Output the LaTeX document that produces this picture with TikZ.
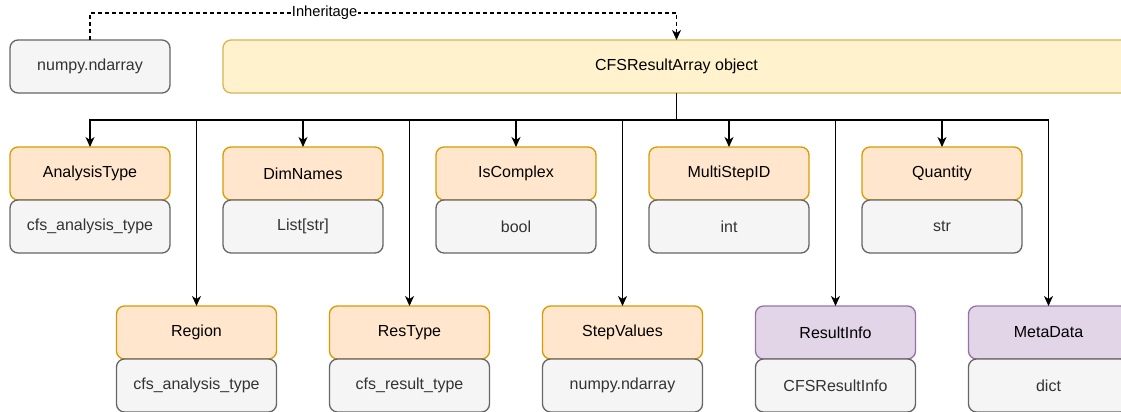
\documentclass[tikz,border=0pt]{standalone}
\usepackage{fontspec}
\setmainfont{Liberation Sans}
\usepackage{xcolor}
\usepackage{tikz}
\usetikzlibrary{arrows.meta,positioning}
\definecolor{ylwF}{HTML}{FFF2CC}
\definecolor{ylwD}{HTML}{D6B656}
\definecolor{orgF}{HTML}{FFE6CC}
\definecolor{orgD}{HTML}{D79B00}
\definecolor{prpF}{HTML}{E1D5E7}
\definecolor{prpD}{HTML}{9673A6}
\definecolor{gryF}{HTML}{F5F5F5}
\definecolor{gryD}{HTML}{666666}
\definecolor{gryT}{HTML}{333333}

\begin{document}
\begin{tikzpicture}[x=1pt, y=1pt, >={Stealth[length=10pt, width=9pt, inset=3pt]}, line width=1.33pt,
  box/.style={draw, rounded corners=8pt, minimum width=160pt, minimum height=53pt, outer sep=0pt, inner sep=2pt, font=\fontsize{16}{19}\selectfont},
  hdr/.style={box, fill=orgF, draw=orgD},
  info/.style={box, fill=prpF, draw=prpD},
  val/.style={box, fill=gryF, draw=gryD, text=gryT},
  bus/.style={->, to path={-- ++(0,-27) -| (\tikztotarget) \tikztonodes}}]
\path[use as bounding box, clip] (0,0) rectangle (1121,-412);

\node[val] (np) at (90,-66.5) {numpy.ndarray};
\node[box, fill=ylwF, draw=ylwD, minimum width=907pt] (obj) at (676.5,-66.5) {CFSResultArray object};

\node[hdr] (atype) at (90,-173.5) {AnalysisType};
\node[hdr] (dims) [right=53pt of atype] {DimNames};
\node[hdr] (cplx) [right=53pt of dims] {IsComplex};
\node[hdr] (msid) [right=53pt of cplx] {MultiStepID};
\node[hdr] (qty) [right=53pt of msid] {Quantity};
\node[val] (atypeV) [below=0pt of atype] {cfs\_analysis\_type};
\node[val] (dimsV) [below=0pt of dims] {List[str]};
\node[val] (cplxV) [below=0pt of cplx] {bool};
\node[val] (msidV) [below=0pt of msid] {int};
\node[val] (qtyV) [below=0pt of qty] {str};

\node[hdr] (reg) at (196.5,-332.5) {Region};
\node[hdr] (rtype) [right=53pt of reg] {ResType};
\node[hdr] (steps) [right=53pt of rtype] {StepValues};
\node[info] (rinfo) [right=53pt of steps] {ResultInfo};
\node[info] (meta) [right=53pt of rinfo] {MetaData};
\node[val] (regV) [below=0pt of reg] {cfs\_analysis\_type};
\node[val] (rtypeV) [below=0pt of rtype] {cfs\_result\_type};
\node[val] (stepsV) [below=0pt of steps] {numpy.ndarray};
\node[val] (rinfoV) [below=0pt of rinfo] {CFSResultInfo};
\node[val] (metaV) [below=0pt of meta] {dict};

\draw[->, dash pattern=on 4pt off 3pt] (np.north) -- ++(0,27) -| node[pos=0.2, fill=white, inner sep=1pt, font=\fontsize{14.67}{17}\selectfont] {Inheritage} (obj.north);

\path 
(obj.south) edge [bus] (atype.north)
(obj.south) edge [bus] (dims.north)
(obj.south) edge [bus] (cplx.north)
(obj.south) edge [bus] (msid.north)
(obj.south) edge [bus] (qty.north)

(obj.south) edge [bus] (reg.north)
(obj.south) edge [bus] (rtype.north)
(obj.south) edge [bus] (steps.north)
(obj.south) edge [bus] (rinfo.north)
(obj.south) edge [bus] (meta.north);
\end{tikzpicture}
\end{document}
